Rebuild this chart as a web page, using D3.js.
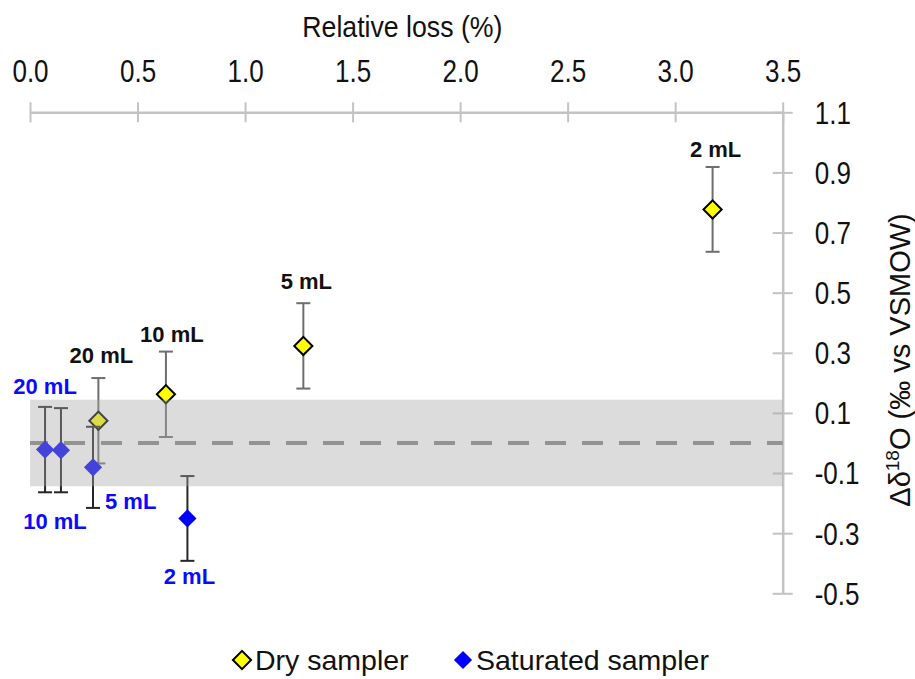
<!DOCTYPE html>
<html>
<head>
<meta charset="utf-8">
<script src="https://cdn.jsdelivr.net/npm/d3@7"></script>
<style>
  html, body { margin: 0; padding: 0; background: #fff; }
  svg { display: block; font-family: "Liberation Sans", Arial, sans-serif; }
</style>
</head>
<body>
<svg id="chart" width="915" height="679"></svg>
<script>
// Axis ticks
const xTicks = [0, 0.5, 1.0, 1.5, 2.0, 2.5, 3.0, 3.5];
const yTicks = [-0.5, -0.3, -0.1, 0.1, 0.3, 0.5, 0.7, 0.9, 1.1];

// Dry sampler: relative loss (%), Δδ18O (‰), uncertainty
const dryLabels = ["20 mL", "10 mL", "5 mL", "2 mL"];
const dryLoss   = [0.318, 0.632, 1.271, 3.174];
const dryDelta  = [0.074, 0.162, 0.323, 0.777];
const dryErr    = [0.142, 0.142, 0.142, 0.141];

// Saturated sampler
const satLabels = ["20 mL", "10 mL", "5 mL", "2 mL"];
const satLoss   = [0.070, 0.144, 0.293, 0.732];
const satDelta  = [-0.022, -0.024, -0.081, -0.251];
const satErr    = [0.142, 0.140, 0.135, 0.141];

// Analytical precision band around zero
const bandHalf = 0.144;

const legendItems = ["Dry sampler", "Saturated sampler"];

const svg = d3.select("#chart");

const x = d3.scaleLinear().domain([0, 3.5]).range([30, 782.7]);
const y = d3.scaleLinear().domain([-0.5, 1.1]).range([593.3, 112.3]);

const axisColor = "#c3c3c3";
const tickScale = 0.84;
const fmt = d => d.toFixed(1);

// Top axis (relative loss)
const gx = svg.append("g")
  .attr("transform", `translate(0,${y(1.1)})`)
  .call(d3.axisTop(x).tickValues(xTicks).tickFormat(fmt).tickSizeOuter(0));
gx.select(".domain").attr("stroke", axisColor).attr("stroke-width", 2.5);
gx.selectAll(".tick line").attr("stroke", axisColor).attr("stroke-width", 2).attr("y1", -10).attr("y2", 10);
gx.selectAll(".tick text")
  .attr("y", -30.5).attr("dy", 0)
  .attr("font-size", 31).attr("fill", "#111")
  .attr("font-family", "Liberation Sans, Arial, sans-serif")
  .attr("transform", `scale(${tickScale},1)`);

// Right axis (Δδ18O)
const gy = svg.append("g")
  .attr("transform", `translate(${x(3.5)},0)`)
  .call(d3.axisRight(y).tickValues(yTicks).tickFormat(fmt).tickSizeOuter(0));
gy.select(".domain").attr("stroke", axisColor).attr("stroke-width", 2.5);
gy.selectAll(".tick line").attr("stroke", axisColor).attr("stroke-width", 2).attr("x1", -10).attr("x2", 10);
gy.selectAll(".tick text")
  .attr("x", 32 / tickScale).attr("dy", "0.35em")
  .attr("font-size", 31).attr("fill", "#111")
  .attr("font-family", "Liberation Sans, Arial, sans-serif")
  .attr("transform", `scale(${tickScale},1)`);

// Axis titles
svg.append("text")
  .attr("transform", `translate(${(x(0) + x(3.5)) / 2 - 4},37) scale(0.89,1)`)
  .attr("text-anchor", "middle")
  .attr("font-size", 30).attr("fill", "#111")
  .text("Relative loss (%)");

const yTitle = svg.append("text")
  .attr("transform", `translate(910,360) rotate(-90)`)
  .attr("text-anchor", "middle")
  .attr("font-size", 29).attr("fill", "#111");
yTitle.append("tspan").text("Δδ");
yTitle.append("tspan").attr("font-size", 19).attr("dy", -11).text("18");
yTitle.append("tspan").attr("dy", 11).text("O (‰ vs VSMOW)");

// Zero reference line
svg.append("line")
  .attr("x1", x(0)).attr("x2", x(3.5))
  .attr("y1", y(0)).attr("y2", y(0))
  .attr("stroke", "#858585").attr("stroke-width", 4)
  .attr("stroke-dasharray", "21 16").attr("stroke-dashoffset", 3);

const diamond = d3.symbol().type(d3.symbolSquare).size(165);

function drawSeries(loss, delta, err, lineColor) {
  const g = svg.append("g");
  const pts = loss.map((l, i) => ({ l, d: delta[i], e: err[i] }));
  const eb = g.selectAll(".eb").data(pts).enter().append("g")
    .attr("stroke", lineColor).attr("stroke-width", 2);
  eb.append("line")
    .attr("x1", p => x(p.l)).attr("x2", p => x(p.l))
    .attr("y1", p => y(p.d + p.e)).attr("y2", p => y(p.d - p.e));
  eb.append("line")
    .attr("x1", p => x(p.l) - 7).attr("x2", p => x(p.l) + 7)
    .attr("y1", p => y(p.d + p.e)).attr("y2", p => y(p.d + p.e));
  eb.append("line")
    .attr("x1", p => x(p.l) - 7).attr("x2", p => x(p.l) + 7)
    .attr("y1", p => y(p.d - p.e)).attr("y2", p => y(p.d - p.e));
  return { g, pts };
}

const dry = drawSeries(dryLoss, dryDelta, dryErr, "#6e6e6e");
const sat = drawSeries(satLoss, satDelta, satErr, "#262626");

dry.g.selectAll(".mk").data(dry.pts).enter().append("path")
  .attr("d", diamond)
  .attr("transform", p => `translate(${x(p.l)},${y(p.d)}) rotate(45)`)
  .attr("fill", "#ffff00").attr("stroke", "#000").attr("stroke-width", 2);

sat.g.selectAll(".mk").data(sat.pts).enter().append("path")
  .attr("d", diamond)
  .attr("transform", p => `translate(${x(p.l)},${y(p.d)}) rotate(45)`)
  .attr("fill", "#0000ff");

// Precision band (translucent, lies over the marks)
svg.append("rect")
  .attr("x", x(0)).attr("width", x(3.5) - x(0))
  .attr("y", y(bandHalf)).attr("height", y(-bandHalf) - y(bandHalf))
  .attr("fill", "#a8a8a8").attr("fill-opacity", 0.4);

// Volume labels
const dryLabelPlace = [
  { dx: 3, dy: -15, anchor: "middle", ref: "top" },
  { dx: 6, dy: -10, anchor: "middle", ref: "top" },
  { dx: 3, dy: -14, anchor: "middle", ref: "top" },
  { dx: 3, dy: -10, anchor: "middle", ref: "top" }
];
const satLabelPlace = [
  { dx: 0, dy: -13, anchor: "middle", ref: "top" },
  { dx: -6, dy: 37, anchor: "middle", ref: "bottom" },
  { dx: 12, dy: 1, anchor: "start", ref: "bottom" },
  { dx: 2, dy: 23, anchor: "middle", ref: "bottom" }
];

function drawLabels(labels, pts, place, color) {
  svg.append("g").selectAll("text").data(labels).enter().append("text")
    .attr("x", (t, i) => x(pts[i].l) + place[i].dx)
    .attr("y", (t, i) => {
      const p = pts[i];
      const base = place[i].ref === "top" ? y(p.d + p.e) : y(p.d - p.e);
      return base + place[i].dy;
    })
    .attr("text-anchor", (t, i) => place[i].anchor)
    .attr("font-size", 22).attr("font-weight", "bold")
    .attr("fill", color)
    .text(t => t);
}
drawLabels(dryLabels, dry.pts, dryLabelPlace, "#111");
drawLabels(satLabels, sat.pts, satLabelPlace, "#0a0aff");

// Legend
const legend = svg.append("g").attr("transform", "translate(0,660)");
const legendX = [242, 463];
const legendFill = ["#ffff00", "#0000ff"];
legendItems.forEach((name, i) => {
  const item = legend.append("g").attr("transform", `translate(${legendX[i]},0)`);
  const mk = item.append("path").attr("d", diamond).attr("transform", "rotate(45)")
    .attr("fill", legendFill[i]);
  if (i === 0) mk.attr("stroke", "#000").attr("stroke-width", 2);
  item.append("text").attr("x", 13).attr("y", 10)
    .attr("font-size", 28.5).attr("fill", "#111").text(name);
});
</script>
</body>
</html>
